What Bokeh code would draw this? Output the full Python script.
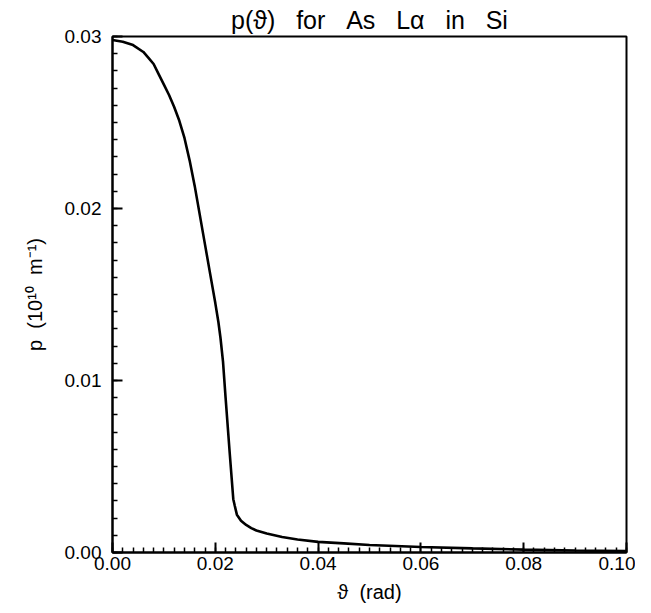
from bokeh.plotting import figure
from bokeh.models import Range1d, FixedTicker
from bokeh.embed import file_html
from bokeh.resources import INLINE

# Data
theta = [0.000, 0.002, 0.004, 0.006, 0.007, 0.008, 0.009, 0.010, 0.011, 0.012, 0.013, 0.014, 0.015,
         0.016, 0.017, 0.018, 0.019, 0.020, 0.0206, 0.021, 0.0215, 0.022, 0.0228, 0.0235,
         0.0238, 0.0242, 0.025, 0.026, 0.027, 0.028, 0.030, 0.033, 0.036, 0.040, 0.045, 0.050,
         0.060, 0.070, 0.080, 0.090, 0.100]
p_vals = [0.0298, 0.0297, 0.0295, 0.0291, 0.02876, 0.0284, 0.0278, 0.0272, 0.0266, 0.0259, 0.0251,
          0.0241, 0.0228, 0.0213, 0.0196, 0.0179, 0.0162, 0.0145, 0.0134, 0.0125, 0.0111, 0.0090,
          0.0058, 0.0031, 0.0027, 0.0022, 0.00185, 0.0016, 0.00142, 0.00128, 0.00110, 0.00090,
          0.00076, 0.00062, 0.00053, 0.00044, 0.00032, 0.00024, 0.00017, 0.00012, 0.00008]

x_ticks = [0.00, 0.02, 0.04, 0.06, 0.08, 0.10]
x_tick_labels = ["0.00", "0.02", "0.04", "0.06", "0.08", "0.10"]
y_ticks = [0.00, 0.01, 0.02, 0.03]
y_tick_labels = ["0.00", "0.01", "0.02", "0.03"]
x_minor = [round(i * 0.002, 4) for i in range(51)]
y_minor = [round(i * 0.001, 4) for i in range(31)]

FONT = "Liberation Sans"
SP = "\u00a0\u00a0"
SP3 = "\u00a0\u00a0\u00a0"

p = figure(width=635, height=605, x_range=Range1d(0, 0.1), y_range=Range1d(0, 0.03),
           output_backend="svg", toolbar_location=None,
           title=SP3.join(["p(ϑ)", "for", "As", "Lα", "in", "Si"]),
           min_border_left=112, min_border_right=9, min_border_top=36, min_border_bottom=52)

p.line(theta, p_vals, line_color="black", line_width=2.6)

p.title.align = "center"
p.title.text_font = FONT
p.title.text_font_size = "25px"
p.title.text_font_style = "normal"
p.title.text_color = "black"
p.title.standoff = 5
p.title.offset = 0

p.xgrid.visible = False
p.ygrid.visible = False
p.outline_line_color = "black"
p.outline_line_width = 2
p.outline_line_alpha = 1

p.xaxis.ticker = FixedTicker(ticks=x_ticks, minor_ticks=x_minor)
p.yaxis.ticker = FixedTicker(ticks=y_ticks, minor_ticks=y_minor)
p.xaxis.major_label_overrides = {t: l for t, l in zip(x_ticks, x_tick_labels)}
p.yaxis.major_label_overrides = {t: l for t, l in zip(y_ticks, y_tick_labels)}

for ax in (p.xaxis[0], p.yaxis[0]):
    ax.axis_line_color = "black"
    ax.axis_line_width = 2
    ax.major_tick_in = 10
    ax.major_tick_out = 0
    ax.minor_tick_in = 5
    ax.minor_tick_out = 0
    ax.major_tick_line_color = "black"
    ax.minor_tick_line_color = "black"
    ax.major_tick_line_width = 2
    ax.minor_tick_line_width = 1.5
    ax.major_label_text_font = FONT
    ax.major_label_text_font_size = "19px"
    ax.major_label_text_color = "black"
    ax.axis_label_text_font = FONT
    ax.axis_label_text_font_size = "20px"
    ax.axis_label_text_font_style = "normal"
    ax.axis_label_text_color = "black"

p.xaxis.axis_label = SP.join(["ϑ", "(rad)"])
p.yaxis.axis_label = SP.join(["p", "(10¹⁰", "m⁻¹)"])
p.xaxis.major_label_standoff = 4
p.yaxis.major_label_standoff = 11
p.xaxis.axis_label_standoff = 8
p.yaxis.axis_label_standoff = 16

open("out.html", "w").write(file_html(p, INLINE))
